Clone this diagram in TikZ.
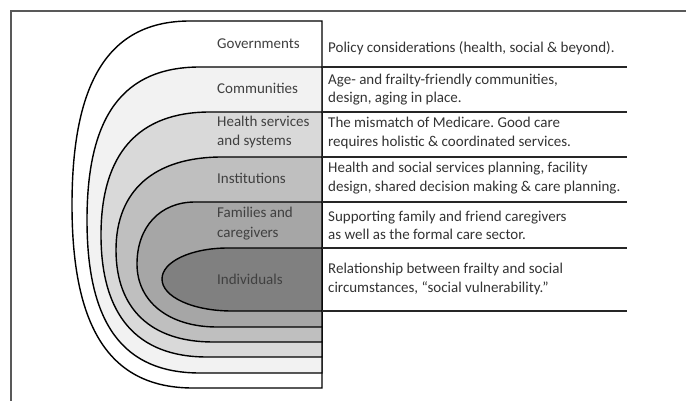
\documentclass[tikz,border=0pt]{standalone}
\usepackage{fontspec}
\setmainfont{Carlito}
\frenchspacing
\begin{document}
\begin{tikzpicture}[x=1pt,y=-1pt,
  frameline/.style={draw=black!65,line width=1.4pt},
  layerline/.style={draw=black,line width=1.4pt},
  sepline/.style={draw=black!85,line width=1.8pt},
  lbl/.style={anchor=west,align=left,inner sep=0pt,text=black!75,font=\fontsize{15}{19.5}\selectfont},
  desc/.style={anchor=west,align=left,inner sep=0pt,text=black!80,font=\fontsize{15}{18.5}\selectfont}]
\useasboundingbox (0,0) rectangle (686,401);
% outer frame (top and left edges only)
\draw[frameline] (11,401) -- (11,11) -- (686,11);
% nested layers: #1 fill, #2 top y, #3 bottom y, #4 leftmost x, #5 y of leftmost point,
% #6 x where the top edge turns, #7 x where the bottom edge turns, #8 roundness
\newcommand\drawlayer[8]{%
  \filldraw[layerline,fill=#1]
    (322,#2) -- (#6,#2)
    .. controls ({#6-#8*(#6-#4)},#2) and (#4,{#5-#8*(#5-#2)}) .. (#4,#5)
    .. controls (#4,{#5+#8*(#3-#5)}) and ({#7-#8*(#7-#4)},#3) .. (#7,#3)
    -- (322,#3) -- cycle;}
\drawlayer{white}{21}{388}{72}{205}{190}{193}{0.68}
\drawlayer{black!5}{67}{373}{87}{220}{200}{200}{0.68}
\drawlayer{black!15}{112}{357}{101}{235}{210}{207}{0.66}
\drawlayer{black!25}{157}{342}{116}{250}{222}{213}{0.64}
\drawlayer{black!35}{202}{327}{137}{264}{195}{217}{0.6}
\drawlayer{black!50}{248}{311}{162}{279}{228}{232}{0.56}
% separators between the descriptions
\foreach \yy in {67,112,157,202,248,311}
  \draw[sepline] (322,\yy) -- (627,\yy);
% layer names
\node[lbl] (gov) at (217,44) {Governments};
\node[lbl] (com) at (217,88) {Communities};
\node[lbl] (hss) at (217,132) {Health services\\and systems};
\node[lbl] (ins) at (217,178) {Institutions};
\node[lbl] (fam) at (217,223.5) {Families and\\caregivers};
\node[lbl] (ind) at (217,279) {Individuals};
% descriptions
\node[desc] (dgov) at (328,48) {Policy considerations (health, social \& beyond).};
\node[desc] (dcom) at (328,89.5) {Age- and frailty-friendly communities,\\design, aging in place.};
\node[desc] (dhss) at (328,133) {The mismatch of Medicare. Good care\\requires holistic \& coordinated services.};
\node[desc] (dins) at (328,178) {Health and social services planning, facility\\design, shared decision making \& care planning.};
\node[desc] (dfam) at (328,225.5) {Supporting family and friend caregivers\\as well as the formal care sector.};
\node[desc] (dind) at (328,279) {Relationship between frailty and social\\circumstances, “social vulnerability.”};
\end{tikzpicture}
\end{document}
